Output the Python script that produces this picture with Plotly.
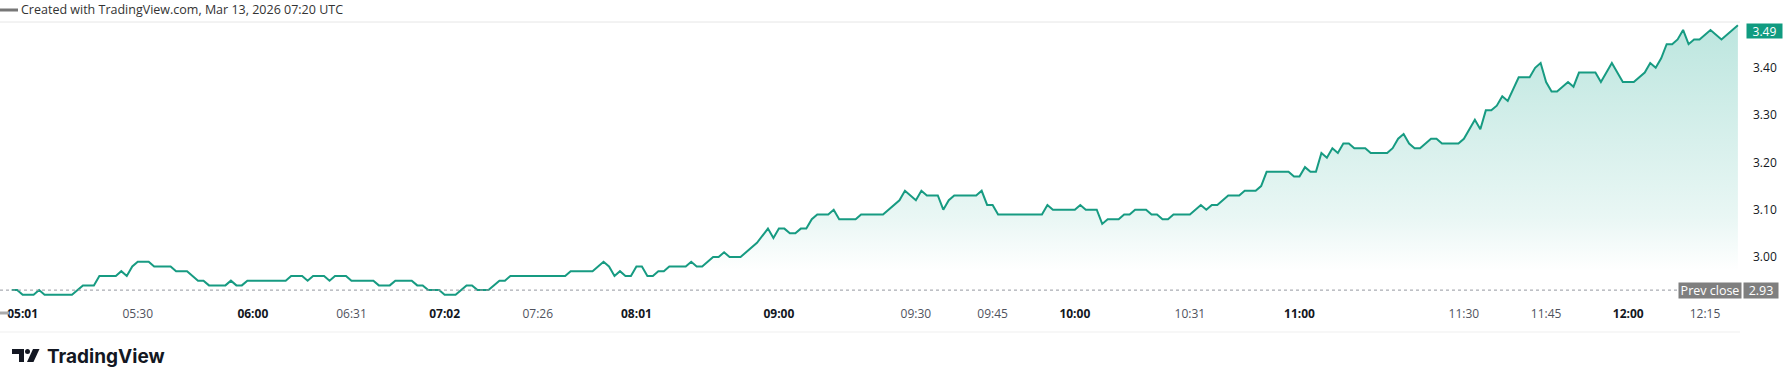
import plotly.graph_objects as go

# ---------------- data ----------------
bar_index = [0, 1, 2, 4, 5, 6, 11, 13, 15, 16, 19, 20, 21, 22, 23, 25, 26, 29, 30, 32,
             34, 35, 36, 39, 40, 41, 42, 43, 50, 51, 53, 54, 55, 57, 58, 59, 61, 62, 66, 67,
             69, 70, 73, 74, 75, 76, 78, 79, 81, 83, 84, 85, 87, 89, 90, 91, 101, 102, 106, 108,
             109, 110, 111, 112, 113, 114, 115, 116, 117, 118, 119, 120, 123, 124, 125, 126, 128, 129, 130, 131,
             133, 135, 136, 138, 139, 140, 141, 142, 143, 144, 145, 146, 147, 149, 150, 151, 154, 155, 159, 162,
             163, 165, 166, 167, 169, 170, 171, 172, 176, 177, 178, 179, 180, 188, 189, 190, 194, 195, 196, 198,
             199, 200, 202, 203, 204, 205, 207, 208, 209, 210, 211, 212, 215, 217, 218, 219, 220, 222, 224, 225,
             227, 228, 229, 233, 234, 235, 236, 237, 238, 239, 240, 241, 242, 243, 244, 245, 247, 248, 251, 252,
             253, 254, 255, 256, 257, 259, 260, 261, 264, 265, 267, 268, 269, 270, 271, 272, 273, 275, 277, 278,
             279, 280, 281, 282, 283, 284, 285, 286, 289, 290, 292, 294, 296, 297, 298, 299, 300, 301, 302, 303,
             304, 305, 306, 307, 308, 310, 312, 315]
price = [2.93, 2.93, 2.92, 2.92, 2.93, 2.92, 2.92, 2.94, 2.94, 2.96, 2.96, 2.97, 2.96, 2.98, 2.99, 2.99, 2.98, 2.98, 2.97, 2.97,
         2.95, 2.95, 2.94, 2.94, 2.95, 2.94, 2.94, 2.95, 2.95, 2.96, 2.96, 2.95, 2.96, 2.96, 2.95, 2.96, 2.96, 2.95, 2.95, 2.94,
         2.94, 2.95, 2.95, 2.94, 2.94, 2.93, 2.93, 2.92, 2.92, 2.94, 2.94, 2.93, 2.93, 2.95, 2.95, 2.96, 2.96, 2.97, 2.97, 2.99,
         2.98, 2.96, 2.97, 2.96, 2.96, 2.98, 2.98, 2.96, 2.96, 2.97, 2.97, 2.98, 2.98, 2.99, 2.98, 2.98, 3.00, 3.00, 3.01, 3.00,
         3.00, 3.02, 3.03, 3.06, 3.04, 3.06, 3.06, 3.05, 3.05, 3.06, 3.06, 3.08, 3.09, 3.09, 3.10, 3.08, 3.08, 3.09, 3.09, 3.12,
         3.14, 3.12, 3.14, 3.13, 3.13, 3.10, 3.12, 3.13, 3.13, 3.14, 3.11, 3.11, 3.09, 3.09, 3.11, 3.10, 3.10, 3.11, 3.10, 3.10,
         3.07, 3.08, 3.08, 3.09, 3.09, 3.10, 3.10, 3.09, 3.09, 3.08, 3.08, 3.09, 3.09, 3.11, 3.10, 3.11, 3.11, 3.13, 3.13, 3.14,
         3.14, 3.15, 3.18, 3.18, 3.17, 3.17, 3.19, 3.18, 3.18, 3.22, 3.21, 3.23, 3.22, 3.24, 3.24, 3.23, 3.23, 3.22, 3.22, 3.23,
         3.25, 3.26, 3.24, 3.23, 3.23, 3.25, 3.25, 3.24, 3.24, 3.25, 3.29, 3.27, 3.31, 3.31, 3.32, 3.34, 3.33, 3.38, 3.38, 3.40,
         3.41, 3.37, 3.35, 3.35, 3.36, 3.37, 3.36, 3.39, 3.39, 3.37, 3.41, 3.37, 3.37, 3.38, 3.39, 3.41, 3.40, 3.42, 3.45, 3.45,
         3.46, 3.48, 3.45, 3.46, 3.46, 3.48, 3.46, 3.49]

prev_close = 2.93
last_price = 3.49
price_ticks = [3.00, 3.10, 3.20, 3.30, 3.40]
time_tick_bars = [2, 23, 44, 62, 79, 96, 114, 140, 165, 179, 194, 215, 235, 265, 280, 295, 309]
time_tick_labels = ["05:01", "05:30", "06:00", "06:31", "07:02", "07:26", "08:01", "09:00", "09:30",
                    "09:45", "10:00", "10:31", "11:00", "11:30", "11:45", "12:00", "12:15"]
bold_time_labels = ["05:01", "06:00", "07:02", "08:01", "09:00", "10:00", "11:00", "12:00"]
title_text = "Created with TradingView.com, Mar 13, 2026 07:20 UTC"

# ---------------- layout helpers ----------------
W, H = 1787, 388
PL, PR, PT, PB = 0, 1740, 22, 300   # plot area in pixels


def px(x):
    return (x - PL) / (PR - PL)


def py(y):
    return (PB - y) / (PB - PT)


FONT = "Open Sans, Liberation Sans, sans-serif"
TEAL = "#179b82"

fig = go.Figure()
fig.add_trace(go.Scatter(
    x=bar_index, y=price, mode="lines",
    line=dict(color=TEAL, width=2),
    fill="tozeroy",
    fillgradient=dict(type="vertical",
                      colorscale=[[0, "rgba(34,171,148,0.0)"],
                                  [0.22, "rgba(34,171,148,0.10)"],
                                  [1, "rgba(34,171,148,0.30)"]],
                      start=2.97, stop=last_price),
    hoverinfo="skip", showlegend=False,
))

ticktext = []
for t in time_tick_labels:
    if t in bold_time_labels:
        ticktext.append(f"<b><span style='color:#131722'>{t}</span></b>")
    else:
        ticktext.append(f"<span style='color:#50535e'>{t}</span>")

fig.update_layout(
    width=W, height=H,
    margin=dict(l=PL, r=W - PR, t=PT, b=H - PB, pad=0),
    paper_bgcolor="white", plot_bgcolor="white",
    font=dict(family=FONT, size=12, color="#131722"),
    xaxis=dict(range=[(PL - 11.7) / 5.48, (PR - 11.7) / 5.48],
               tickvals=time_tick_bars, ticktext=ticktext,
               showgrid=False, zeroline=False, showline=False, ticks="",
               ticklabelstandoff=5, tickfont=dict(size=12, family=FONT)),
    yaxis=dict(range=[3.00 - (PB - 257) / 473, 3.00 + (257 - PT) / 473],
               side="right", tickvals=price_ticks,
               ticktext=[f"{v:.2f}" for v in price_ticks],
               showgrid=False, zeroline=False, showline=False, ticks="",
               ticklabelstandoff=12, tickfont=dict(size=12, color="#131722", family=FONT)),
)

shapes = []
# pane top border
shapes.append(dict(type="line", xref="paper", yref="paper", x0=0, x1=1, y0=1, y1=1,
                   line=dict(color="#e6e6e6", width=1)))
# time scale bottom border
shapes.append(dict(type="line", xref="paper", yref="paper", x0=0, x1=1, y0=py(332), y1=py(332),
                   line=dict(color="#efefef", width=1)))
# prev close dotted line
shapes.append(dict(type="line", xref="paper", yref="y", x0=0, x1=px(1678), y0=prev_close, y1=prev_close,
                   line=dict(color="#9598a1", width=1, dash="dot")))
# small gray strokes on the left edge
shapes.append(dict(type="line", xref="paper", yref="paper", x0=0, x1=px(18), y0=py(10), y1=py(10),
                   line=dict(color="#777777", width=3)))
shapes.append(dict(type="line", xref="paper", yref="paper", x0=0, x1=px(9), y0=py(313), y1=py(313),
                   line=dict(color="#aaaaaa", width=3)))


def path(points):
    s = "M " + " L ".join(f"{px(a):.5f},{py(b):.5f}" for a, b in points) + " Z"
    return s


# TradingView logo icon
shapes.append(dict(type="path", xref="paper", yref="paper",
                   path=path([(12, 349), (24, 349), (24, 362), (19, 362), (19, 354), (12, 354)]),
                   fillcolor="#131722", line=dict(width=0)))
shapes.append(dict(type="circle", xref="paper", yref="paper",
                   x0=px(25), x1=px(30), y0=py(349), y1=py(354),
                   fillcolor="#131722", line=dict(width=0)))
shapes.append(dict(type="path", xref="paper", yref="paper",
                   path=path([(33, 349), (39.5, 349), (33.5, 362), (27, 362)]),
                   fillcolor="#131722", line=dict(width=0)))
fig.update_layout(shapes=shapes)

ann = []
ann.append(dict(text=title_text, xref="paper", yref="paper", x=px(19), y=py(9),
                xanchor="left", yanchor="middle", showarrow=False,
                font=dict(size=12.5, color="#333333", family=FONT)))
ann.append(dict(text="<b>TradingView</b>", xref="paper", yref="paper", x=px(45), y=py(356),
                xanchor="left", yanchor="middle", showarrow=False,
                font=dict(size=19, color="#131722", family="Inter, Open Sans, sans-serif")))
# last price label
ann.append(dict(text=f"{last_price:.2f}", xref="paper", yref="y", x=px(1746), y=last_price,
                yshift=-6, xanchor="left", yanchor="middle", showarrow=False,
                bgcolor="#109b80", borderpad=1, width=33, height=12,
                font=dict(size=12, color="white", family=FONT)))
# prev close labels
ann.append(dict(text="Prev close", xref="paper", yref="y", x=px(1742), y=prev_close,
                xanchor="right", yanchor="middle", showarrow=False,
                bgcolor="#7f7f7f", borderpad=1, width=60, height=13,
                font=dict(size=12.5, color="white", family=FONT)))
ann.append(dict(text=f"{prev_close:.2f}", xref="paper", yref="y", x=px(1743), y=prev_close,
                xanchor="left", yanchor="middle", showarrow=False,
                bgcolor="#7f7f7f", borderpad=1, width=32, height=13,
                font=dict(size=12.5, color="white", family=FONT)))
fig.update_layout(annotations=ann)

fig.write_html("out.html")
